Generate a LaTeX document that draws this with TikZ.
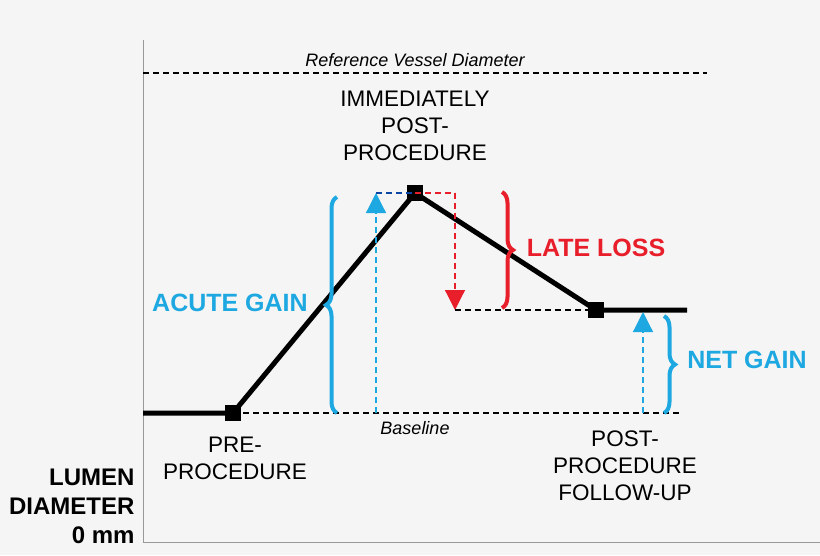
\documentclass[tikz,border=0pt]{standalone}
\usepackage{fontspec}
\setmainfont{Liberation Sans}
\usepackage{xcolor}
\definecolor{colorGain}{RGB}{30,168,225}
\definecolor{colorLoss}{RGB}{232,30,42}
\definecolor{colorBack}{RGB}{245,245,245}
\usetikzlibrary{arrows.meta, decorations.pathreplacing}
\tikzset{stage/.style={fill=black, minimum size=16pt, inner sep=0pt}}

\begin{document}
\begin{tikzpicture}[x=1pt, y=-1pt, font=\fontsize{22.5}{27}\selectfont,
  curve/.style={line width=5pt, line join=miter},
  guide/.style={dash pattern=on 6pt off 4pt, line width=1.2pt},
  tip/.style={-{Triangle[length=20pt, width=20pt]}},
  gainbrace/.style={decorate, decoration={brace, amplitude=11pt}, line width=4pt, colorGain},
  losstext/.style={font=\fontsize{25}{30}\selectfont\bfseries, colorLoss},
  gaintext/.style={font=\fontsize{25}{30}\selectfont\bfseries, colorGain}]
\fill[colorBack] (0,0) rectangle (820,555);
\useasboundingbox (0,0) rectangle (820,555);
% axes
\draw[gray!80, line width=1pt] (143,40) -- (143,542) -- (820,542);
% reference lines
\coordinate (refL) at (143,73);
\coordinate (refR) at (707,73);
\coordinate (baseL) at (143,413);
\coordinate (baseR) at (680,413);
\draw[guide] (refL) -- (refR);
\draw[guide] (baseL) -- (baseR);
\node[font=\fontsize{18}{21}\selectfont\itshape] (reftext) at (415,60) {Reference Vessel Diameter};
\node[font=\fontsize{18}{21}\selectfont\itshape] (basetext) at (415,428) {Baseline};
% stages
\node[stage] (pre) at (233,413) {};
\node[stage] (post) at (415,193) {};
\node[stage] (follow) at (596,310) {};
\coordinate (start) at (143,413);
\coordinate (finish) at (687,310);
\draw[curve] (start) -- (pre.center) -- (post.center) -- (follow.center) -- (finish);
% acute gain
\coordinate (acuteB) at (376,413);
\coordinate (acuteT) at (376,193);
\draw[guide, colorGain, tip] (acuteB) -- (acuteT);
\draw[guide, colorGain!60!blue!70!black] (acuteT) -- (post.center);
\draw[gainbrace] (337,413) -- (337,197);
\node[gaintext] (acute) at (230,303) {ACUTE GAIN};
% late loss
\coordinate (lossT) at (455,193);
\coordinate (lossB) at (455,310);
\draw[guide, colorLoss] (post.center) -- (lossT);
\draw[guide, colorLoss, tip] (lossT) -- (lossB);
\draw[guide] (lossB) -- (follow.center);
\draw[decorate, decoration={brace, amplitude=11pt}, line width=4pt, colorLoss] (502,192) -- (502,308);
\node[losstext] (late) at (596,248) {LATE LOSS};
% net gain
\coordinate (netB) at (643,413);
\coordinate (netT) at (643,312);
\draw[guide, colorGain, tip] (netB) -- (netT);
\draw[gainbrace] (664,316) -- (664,413);
\node[gaintext] (net) at (747,360) {NET GAIN};
% labels
\node[align=center] (postlabel) at (415,126) {IMMEDIATELY\\POST-\\PROCEDURE};
\node[align=center] (prelabel) at (235,458) {PRE-\\PROCEDURE};
\node[align=center] (followlabel) at (625,466) {POST-\\PROCEDURE\\FOLLOW-UP};
\node[align=right, anchor=east, font=\fontsize{24}{29}\selectfont\bfseries] (axislabel) at (138,506) {LUMEN\\DIAMETER\\0 mm};
\end{tikzpicture}
\end{document}
